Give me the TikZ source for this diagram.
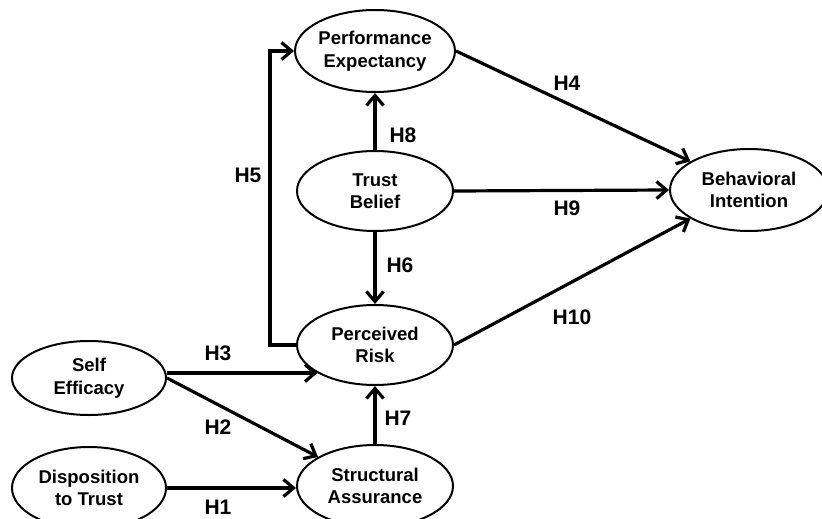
\documentclass[tikz,border=0pt]{standalone}
\usepackage{fontspec}
\setmainfont{Liberation Sans}
\usetikzlibrary{arrows.meta,shapes.geometric}
\begin{document}
\begin{tikzpicture}[x=1pt,y=-1pt,
  latent/.style={ellipse,draw,line width=2pt,minimum width=156pt,minimum height=80pt,inner sep=0pt,align=center,font=\fontsize{18.5}{22.5}\selectfont\bfseries},
  hpath/.style={line width=3.2pt,-{Straight Barb[length=10pt,width=17pt]}},
  hyp/.style={font=\fontsize{21}{24}\selectfont\bfseries,inner sep=0pt}]
\useasboundingbox (0,0) rectangle (822,519);
\clip (0,0) rectangle (822,519);

\node[latent,minimum height=82pt] (pe) at (375,51) {Performance\\Expectancy};
\node[latent] (tb) at (375,191) {Trust\\Belief};
\node[latent,minimum width=158pt,minimum height=82pt] (bi) at (749,190) {Behavioral\\Intention};
\node[latent] (pr) at (375,345) {Perceived\\Risk};
\node[latent,minimum width=154pt,minimum height=74pt] (se) at (89,378) {Self\\Efficacy};
\node[latent,minimum width=154pt,minimum height=82pt] (dt) at (89,488) {Disposition\\to Trust};
\node[latent,minimum height=82pt] (sa) at (375,486) {Structural\\Assurance};

\draw[hpath] (pr.west) -- ++(-26,0) |- (pe.west);
\draw[hpath] (tb.north) -- (pe.south);
\draw[hpath] (tb.south) -- (pr.north);
\draw[hpath] (sa.north) -- (pr.south);
\draw[hpath] (tb.east) -- (bi.west);
\draw[hpath] (pe.east) -- (bi.154);
\draw[hpath] (pr.east) -- (bi.206);
\draw[hpath] (se.east |- pr.206.6) -- (pr.206.6);
\draw[hpath] (se.east) -- (sa.153);
\draw[hpath] (dt.east) -- (dt.east -| sa.west);

\node[hyp] (h1) at (218,507) {H1};
\node[hyp] (h2) at (218,427) {H2};
\node[hyp] (h3) at (218,353) {H3};
\node[hyp] (h4) at (567,83) {H4};
\node[hyp] (h5) at (248,175) {H5};
\node[hyp] (h6) at (400,265) {H6};
\node[hyp] (h7) at (398,418) {H7};
\node[hyp] (h8) at (403,135) {H8};
\node[hyp] (h9) at (567,208) {H9};
\node[hyp] (h10) at (572,317) {H10};
\end{tikzpicture}
\end{document}
